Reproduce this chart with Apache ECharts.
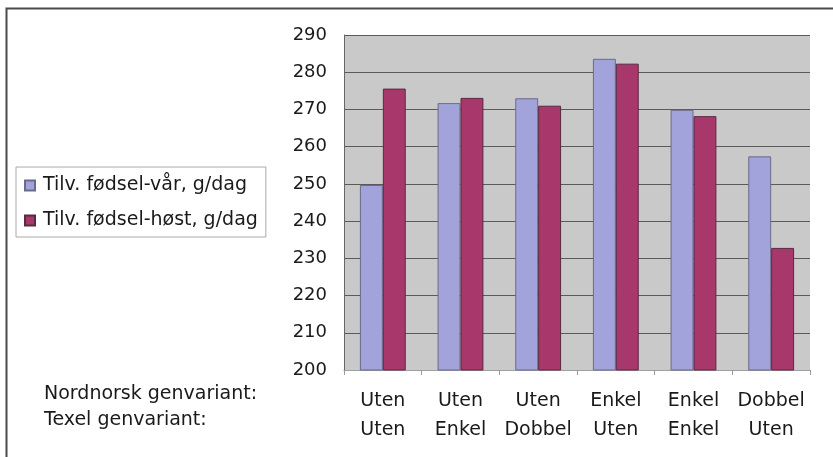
<!DOCTYPE html>
<html>
<head>
<meta charset="utf-8">
<script src="https://cdn.jsdelivr.net/npm/echarts@6/dist/echarts.min.js"></script>
<style>
html,body{margin:0;padding:0;background:#fff;}
#chart{width:833px;height:457px;}
</style>
</head>
<body>
<div id="chart"></div>
<script>
// Data
const nordnorsk = ['Uten', 'Uten', 'Uten', 'Enkel', 'Enkel', 'Dobbel'];
const texel = ['Uten', 'Enkel', 'Dobbel', 'Uten', 'Enkel', 'Uten'];
const seriesNames = ['Tilv. fødsel-vår, g/dag', 'Tilv. fødsel-høst, g/dag'];
const varValues = [249.7, 271.7, 273.0, 283.6, 269.9, 257.4];
const hostValues = [275.6, 273.1, 271.0, 282.3, 268.2, 232.8];
const rowLabels = ['Nordnorsk genvariant:', 'Texel genvariant:'];
const yMin = 200, yMax = 290, yStep = 10;

const categories = nordnorsk.map((n, i) => n + '\n' + texel[i]);
const FONT = 'DejaVu Sans';
const TXT = '#1a1a1a';

const chart = echarts.init(document.getElementById('chart'), null, {renderer: 'canvas'});
chart.setOption({
  animation: false,
  backgroundColor: '#ffffff',
  textStyle: {fontFamily: FONT, color: TXT},
  grid: {
    left: 344, right: 23, top: 35, bottom: 87,
    show: true, backgroundColor: '#c9c9c9', borderWidth: 0
  },
  legend: {
    orient: 'vertical',
    left: 16, top: 167,
    padding: [9, 8, 7, 8],
    itemGap: 16,
    itemWidth: 10, itemHeight: 10,
    icon: 'rect',
    borderColor: '#aaaaaa', borderWidth: 1,
    textStyle: {fontFamily: FONT, fontSize: 19, color: TXT, padding: [0, 0, 0, 3]},
    data: seriesNames
  },
  xAxis: {
    type: 'category',
    data: categories,
    axisLine: {show: true, lineStyle: {color: '#a0a0a0', width: 1}},
    axisTick: {show: true, length: 5, lineStyle: {color: '#9a9a9a'}},
    axisLabel: {fontFamily: FONT, fontSize: 19, color: TXT, lineHeight: 28.5, margin: 17, interval: 0}
  },
  yAxis: {
    type: 'value',
    min: yMin, max: yMax, interval: yStep,
    axisLine: {show: true, lineStyle: {color: '#666', width: 1}},
    axisTick: {show: false},
    axisLabel: {fontFamily: FONT, fontSize: 18, color: TXT, margin: 17},
    splitLine: {show: true, lineStyle: {color: '#5a5a5a', width: 1}}
  },
  series: [
    {
      name: seriesNames[0], type: 'bar', data: varValues,
      barGap: '0%', barCategoryGap: '41%',
      itemStyle: {color: '#a3a3db', borderColor: '#6a6a8a', borderWidth: 1}
    },
    {
      name: seriesNames[1], type: 'bar', data: hostValues,
      barGap: '0%', barCategoryGap: '41%',
      itemStyle: {color: '#a8386c', borderColor: '#5a2a40', borderWidth: 1}
    }
  ],
  graphic: [
    {type: 'rect', left: 4, top: 6, shape: {width: 840, height: 470}, silent: true,
      style: {fill: 'none', stroke: '#4a4a4a', lineWidth: 2}, z: 100},
    {type: 'text', x: 44, y: 394, style: {text: rowLabels[0], font: '19px "DejaVu Sans"', fill: TXT, textVerticalAlign: 'middle'}},
    {type: 'text', x: 44, y: 420, style: {text: rowLabels[1], font: '19px "DejaVu Sans"', fill: TXT, textVerticalAlign: 'middle'}}
  ]
});
</script>
</body>
</html>
